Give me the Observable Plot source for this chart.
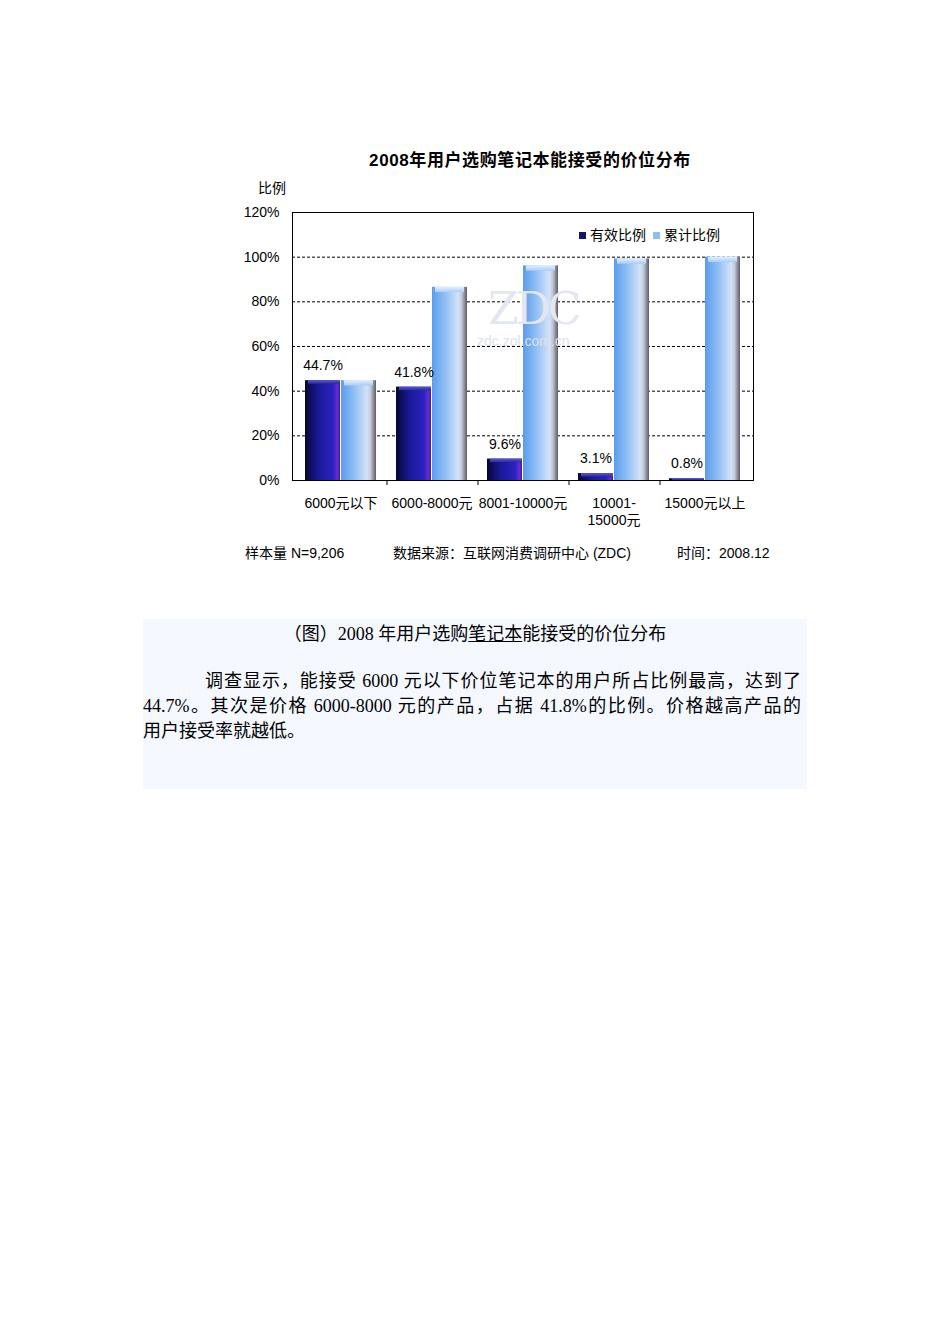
<!DOCTYPE html>
<html>
<head>
<meta charset="utf-8">
<script src="https://cdn.jsdelivr.net/npm/d3@7"></script>
<script src="https://cdn.jsdelivr.net/npm/@observablehq/plot@0.6"></script>
<style>
  html, body { margin: 0; padding: 0; background: #fff; }
  #page { position: relative; width: 950px; height: 1344px; overflow: hidden; font-family: "Liberation Sans", "Noto Sans CJK SC", sans-serif; color: #000; }
  .abs { position: absolute; white-space: nowrap; }
  #chart { position: absolute; left: 0; top: 0; }
  .lg { display: inline-block; width: 7px; height: 7px; margin-right: 4px; vertical-align: 1px; }
  #box { position: absolute; left: 143px; top: 619px; width: 664px; height: 170px; background: #f5f9ff; font-family: "Liberation Serif", "Noto Sans CJK SC", serif; font-size: 18px; }
  #box .ln { position: absolute; white-space: nowrap; line-height: 20px; }
</style>
</head>
<body>
<div id="page">
  <div id="chart"></div>
  <div class="abs" style="left:0;width:1060px;text-align:center;top:146px;font-size:17px;font-weight:bold;letter-spacing:0.6px;">2008年用户选购笔记本能接受的价位分布</div>
  <div class="abs" style="left:258px;top:177px;font-size:14px;">比例</div>
  <div class="abs" style="left:579px;top:224px;font-size:14px;"><span class="lg" style="background:#14146e"></span>有效比例 <span class="lg" style="background:#8fbef2;margin-left:3px"></span>累计比例</div>
  <div class="abs" style="left:488px;top:289px;height:40px;font-size:44px;line-height:40px;color:#e3e7ef;font-family:'DejaVu Serif',serif;letter-spacing:-3px;">ZDC</div>
  <div class="abs" style="left:477px;top:334px;height:14px;font-size:14px;line-height:14px;color:#dde2ea;">zdc.zol.com.cn</div>
  <div class="abs" style="left:245px;top:542px;font-size:14px;">样本量 N=9,206</div>
  <div class="abs" style="left:393px;top:542px;font-size:14px;">数据来源：互联网消费调研中心 (ZDC)</div>
  <div class="abs" style="left:677px;top:542px;font-size:14px;">时间：2008.12</div>
  <div id="box">
    <div class="ln" style="left:0;width:664px;text-align:center;top:5px;">（图）2008 年用户选购<span style="text-decoration:underline">笔记本</span>能接受的价位分布</div>
    <div class="ln" style="left:62px;width:596px;top:52px;text-align:justify;text-align-last:justify;">调查显示，能接受 6000 元以下价位笔记本的用户所占比例最高，达到了</div>
    <div class="ln" style="left:0;width:658px;top:77px;text-align:justify;text-align-last:justify;">44.7%。其次是价格 6000-8000 元的产品，占据 41.8%的比例。价格越高产品的</div>
    <div class="ln" style="left:0;top:102px;">用户接受率就越低。</div>
  </div>
</div>
<script>
const categories = ["6000元以下", "6000-8000元", "8001-10000元", "10001-15000元", "15000元以上"];
const categoryLabels = ["6000元以下", "6000-8000元", "8001-10000元", "10001-\n15000元", "15000元以上"];
const effective = [44.7, 41.8, 9.6, 3.1, 0.8];
const cumulative = [44.7, 86.5, 96.1, 99.2, 100.0];
const yTicks = [0, 20, 40, 60, 80, 100, 120];

const rows = categories.map((c, i) => ({cat: c, eff: effective[i], cum: cumulative[i]}));
const labelOf = new Map(categories.map((c, i) => [c, categoryLabels[i]]));

const chart = Plot.plot({
  width: 950,
  height: 600,
  marginTop: 212,
  marginLeft: 292,
  marginRight: 197,
  marginBottom: 120,
  style: {fontFamily: "'Liberation Sans', 'Noto Sans CJK SC', sans-serif", fontSize: "14px", color: "#000", background: "transparent"},
  x: {domain: categories, paddingInner: 0.217, paddingOuter: 0.12},
  y: {domain: [0, 120]},
  marks: [
    Plot.gridY([20, 40, 60, 80, 100], {stroke: "#000", strokeOpacity: 1, strokeDasharray: "3,2", strokeWidth: 1}),
    Plot.axisY(yTicks, {tickSize: 0, tickPadding: 13, tickFormat: d => d + "%", label: null, fontSize: 14}),
    Plot.axisX({tickSize: 0, tickPadding: 16, tickFormat: d => labelOf.get(d), label: null, fontSize: 14, lineHeight: 1.2}),
    Plot.axisX(categories.slice(0, 4), {tickSize: 5, text: null, dx: 46, label: null}),
    Plot.barY(rows, {x: "cat", y: "eff", insetRight: 36, fill: "url(#gradDark)"}),
    Plot.barY(rows, {x: "cat", y: "cum", insetLeft: 36, fill: "url(#gradLight)"}),
    Plot.barY(rows, {x: "cat", y1: "eff", y2: d => Math.max(0, d.eff - 1.6), insetRight: 36, insetLeft: 3, fill: "url(#gradDarkTop)"}),
    Plot.barY(rows, {x: "cat", y1: "cum", y2: d => d.cum - 2.4, insetLeft: 39, insetRight: 3, fill: "url(#gradLightTop)"}),
    Plot.text(rows, {x: "cat", y: "eff", text: d => d.eff.toFixed(1) + "%", dx: -18, dy: -15, fontSize: 14, fill: "#000"}),
    Plot.frame({stroke: "#000", strokeWidth: 1})
  ]
});

const defs = d3.select(chart).insert("defs", ":first-child");
function grad(id, stops, vertical) {
  const g = defs.append("linearGradient").attr("id", id)
    .attr("x1", "0").attr("y1", "0").attr("x2", vertical ? "0" : "1").attr("y2", vertical ? "1" : "0");
  stops.forEach(([o, c]) => g.append("stop").attr("offset", o).attr("stop-color", c));
}
grad("gradDark", [[0, "#05052a"], [0.12, "#0c0c55"], [0.4, "#1a1a9a"], [0.8, "#2a22c0"], [0.93, "#6a2ad8"], [1, "#3a1a90"]]);
grad("gradLight", [[0, "#5a9cec"], [0.35, "#8cbcf4"], [0.75, "#d4e2f8"], [0.85, "#c2c6d6"], [0.93, "#8a8c9a"], [1, "#5e5e6a"]]);
grad("gradDarkTop", [[0, "#5a5acc"], [1, "#2a2aa0"]], true);
grad("gradLightTop", [[0, "#e4f0ff"], [1, "#a8ccf6"]], true);

document.getElementById("chart").appendChild(chart);
</script>
</body>
</html>
